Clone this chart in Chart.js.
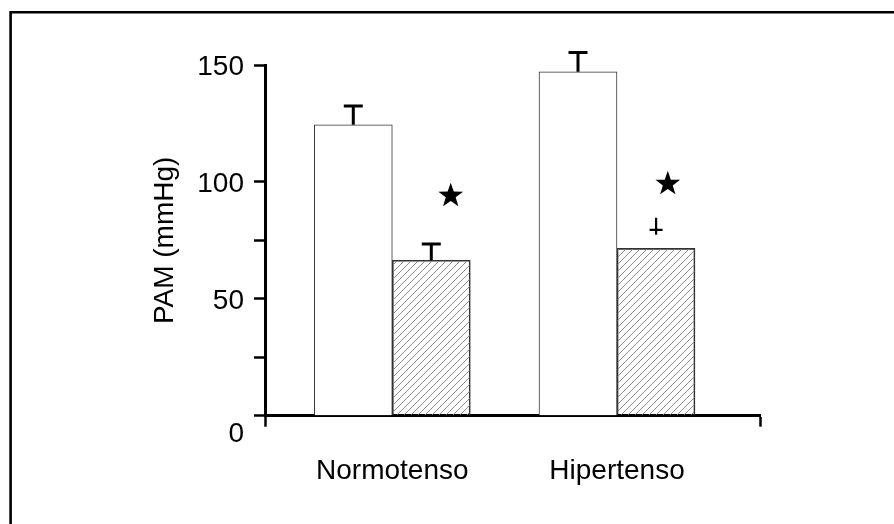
<!DOCTYPE html>
<html>
<head>
<meta charset="utf-8">
<script src="https://cdn.jsdelivr.net/npm/chart.js@4.4.1/dist/chart.umd.min.js"></script>
<style>
    html, body { margin: 0; padding: 0; background: #fff; }
    #wrap { width: 894px; height: 524px; position: relative; }
</style>
</head>
<body>
<div id="wrap"><canvas id="chartCanvas" width="894" height="524"></canvas></div>
<script>
// categories sit at x = 0 and x = 1 on a linear axis
const categories = ['Normotenso', 'Hipertenso'];
const controlValues = [124.4, 147.1];
const controlErrors = [8.1, 8.2];
const treatedValues = [66.5, 71.6];
const treatedErrors = [6.9, null];
const yTicks = [0, 25, 50, 75, 100, 150];
const yLabelled = [0, 50, 100, 150];

// significance marks (data coordinates)
const starX = [0.26, 1.226];
const starY = [94.5, 99.6];
const plusX = [1.174];
const plusY = [79.5];

const xMin = -0.5665;
const xMax = 1.6364;

const FONT = { family: "'Liberation Sans', Arial, sans-serif", size: 28 };

function hatchPattern() {
    const c = document.createElement('canvas');
    c.width = 7; c.height = 7;
    const g = c.getContext('2d');
    g.strokeStyle = '#808080';
    g.lineWidth = 0.9;
    g.beginPath();
    g.moveTo(-1, 8); g.lineTo(8, -1);
    g.moveTo(-1, 1); g.lineTo(1, -1);
    g.moveTo(6, 8); g.lineTo(8, 6);
    g.stroke();
    return g.createPattern(c, 'repeat');
}

function drawStar(ctx, cx, cy, R) {
    const r = R * 0.4;
    ctx.beginPath();
    for (let i = 0; i < 10; i++) {
        const rad = i % 2 === 0 ? R : r;
        const a = -Math.PI / 2 + i * Math.PI / 5;
        const px = cx + rad * Math.cos(a), py = cy + rad * Math.sin(a);
        if (i === 0) ctx.moveTo(px, py); else ctx.lineTo(px, py);
    }
    ctx.closePath();
    ctx.fill();
}

// frame lines (top and left only) + error bars + marks
const extras = {
    id: 'extras',
    beforeDraw(chart) {
        const ctx = chart.ctx;
        ctx.save();
        ctx.strokeStyle = '#000';
        ctx.lineWidth = 2.6;
        ctx.beginPath();
        ctx.moveTo(10.6, chart.height);
        ctx.lineTo(10.6, 12.2);
        ctx.lineTo(chart.width, 12.2);
        ctx.stroke();
        ctx.restore();
    },
    afterDatasetsDraw(chart) {
        const ctx = chart.ctx;
        const x = chart.scales.x, y = chart.scales.y;
        const errs = [controlErrors, treatedErrors];
        ctx.save();
        ctx.strokeStyle = '#000';
        ctx.fillStyle = '#000';
        ctx.lineWidth = 3;
        errs.forEach((err, di) => {
            const meta = chart.getDatasetMeta(di);
            meta.data.forEach((bar, i) => {
                if (err[i] == null) return;
                const v = chart.data.datasets[di].data[i].y;
                const top = y.getPixelForValue(v + err[i]);
                ctx.beginPath();
                ctx.moveTo(bar.x, bar.y);
                ctx.lineTo(bar.x, top);
                ctx.moveTo(bar.x - 9.5, top);
                ctx.lineTo(bar.x + 9.5, top);
                ctx.stroke();
            });
        });
        starX.forEach((sx, i) => {
            drawStar(ctx, x.getPixelForValue(sx), y.getPixelForValue(starY[i]) + 1, 13);
        });
        ctx.lineWidth = 2.2;
        plusX.forEach((px, i) => {
            const cx = x.getPixelForValue(px), cy = y.getPixelForValue(plusY[i]);
            ctx.beginPath();
            ctx.moveTo(cx, cy - 12);
            ctx.lineTo(cx, cy + 5);
            ctx.moveTo(cx - 6.5, cy);
            ctx.lineTo(cx + 6.5, cy);
            ctx.stroke();
        });
        ctx.restore();
    }
};

const chart = new Chart(document.getElementById('chartCanvas'), {
    type: 'bar',
    data: {
        datasets: [
            {
                label: 'Control',
                data: controlValues.map((v, i) => ({ x: i, y: v })),
                backgroundColor: '#fff',
                borderColor: '#333',
                borderWidth: 1,
                barThickness: 78,
                categoryPercentage: 1,
                barPercentage: 1
            },
            {
                label: 'Tratado',
                data: treatedValues.map((v, i) => ({ x: i, y: v })),
                backgroundColor: hatchPattern(),
                borderColor: '#333',
                borderWidth: 1,
                barThickness: 78,
                categoryPercentage: 1,
                barPercentage: 1
            }
        ]
    },
    options: {
        responsive: false,
        animation: false,
        devicePixelRatio: 1,
        layout: { padding: { left: 0, top: 65, right: 134, bottom: 0 } },
        plugins: { legend: { display: false }, tooltip: { enabled: false } },
        scales: {
            x: {
                type: 'linear',
                min: xMin,
                max: xMax,
                offset: false,
                z: 1,
                afterBuildTicks: s => { s.ticks = [xMin, 0, 1, xMax].map(v => ({ value: v })); },
                afterFit: s => { s.height = 108.3; },
                grid: {
                    offset: false,
                    drawOnChartArea: false,
                    tickLength: 11,
                    tickWidth: 2.5,
                    tickColor: c => (c.tick && Number.isInteger(c.tick.value)) ? 'transparent' : '#000'
                },
                border: { display: true, color: '#000', width: 3 },
                ticks: {
                    autoSkip: false,
                    maxRotation: 0,
                    padding: 28,
                    color: '#000',
                    font: FONT,
                    callback: v => Number.isInteger(v) ? categories[v] : ''
                }
            },
            y: {
                min: 0,
                max: 150,
                z: 1,
                afterBuildTicks: s => { s.ticks = yTicks.map(v => ({ value: v })); },
                afterFit: s => { s.width = 265; },
                grid: { drawOnChartArea: false, tickLength: 11, tickWidth: 2.5, tickColor: '#000' },
                border: { display: true, color: '#000', width: 3 },
                ticks: {
                    autoSkip: false,
                    padding: 10,
                    labelOffset: 2,
                    color: '#000',
                    font: FONT,
                    callback: v => yLabelled.includes(v) ? (v === 0 ? ['', '0'] : String(v)) : ''
                },
                title: {
                    display: true,
                    text: 'PAM (mmHg)',
                    color: '#000',
                    font: FONT,
                    padding: { top: 148, bottom: 0 }
                }
            }
        }
    },
    plugins: [extras]
});
</script>
</body>
</html>
